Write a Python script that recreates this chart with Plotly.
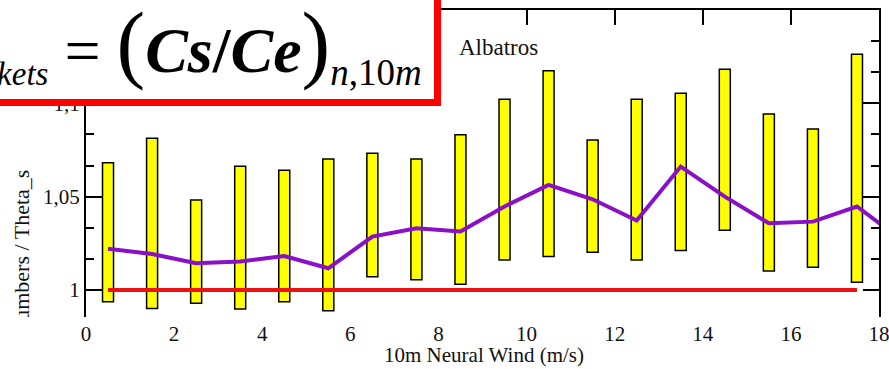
import plotly.graph_objects as go

# Wind-speed bins (bin centres, m/s)
wind_bins = [0.5, 1.5, 2.5, 3.5, 4.5, 5.5, 6.5, 7.5, 8.5,
             9.5, 10.5, 11.5, 12.5, 13.5, 14.5, 15.5, 16.5, 17.5]
# Spread of the ratio in each bin (lower / upper end of the bars)
ratio_low = [0.9937, 0.9900, 0.9929, 0.9898, 0.9937, 0.9889, 1.0071, 1.0054, 1.0030,
             1.0161, 1.0179, 1.0202, 1.0161, 1.0211, 1.0320, 1.0102, 1.0122, 1.0041]
ratio_high = [1.0682, 1.0813, 1.0482, 1.0663, 1.0641, 1.0702, 1.0732, 1.0702, 1.0832,
              1.1022, 1.1174, 1.0804, 1.1022, 1.1054, 1.1183, 1.0943, 1.0863, 1.1263]
# Mean ratio per bin (the last bin lies beyond the axis range)
mean_bins = wind_bins + [18.5]
ratio_mean = [1.0221, 1.0193, 1.0143, 1.0152, 1.0182, 1.0116, 1.0286, 1.0331, 1.0313,
              1.0447, 1.0563, 1.0486, 1.0372, 1.0661, 1.0500, 1.0357, 1.0366, 1.0447, 1.0270]
# Reference ratio of one
ref_x = [0.5, 17.5]
ref_y = [1.0, 1.0]

x_ticks = [0, 2, 4, 6, 8, 10, 12, 14, 16, 18]
x_ticktext = ["0", "2", "4", "6", "8", "10", "12", "14", "16", "18"]
y_ticks = [1.0, 1.05, 1.1]
y_ticktext = ["1", "1,05", "1,1"]

SERIF = "Liberation Serif"
TICKFONT = dict(family=SERIF, size=21, color="#111111")

fig = go.Figure()

fig.add_trace(go.Bar(
    x=wind_bins,
    base=ratio_low,
    y=[h - l for h, l in zip(ratio_high, ratio_low)],
    width=0.25,
    marker=dict(color="#ffff00", line=dict(color="#000000", width=1.5)),
    hoverinfo="skip",
    showlegend=False,
))

fig.add_trace(go.Scatter(
    x=ref_x, y=ref_y, mode="lines", xaxis="x2",
    line=dict(color="#ee1111", width=4),
    showlegend=False,
))

fig.add_trace(go.Scatter(
    x=mean_bins, y=ratio_mean, mode="lines",
    line=dict(color="#8a10c8", width=4),
    showlegend=False,
))

fig.update_layout(
    width=889, height=369,
    margin=dict(l=86, r=10, t=10, b=52, autoexpand=False),
    plot_bgcolor="white", paper_bgcolor="white",
    font=dict(family=SERIF, color="#111111"),
    showlegend=False,
    xaxis=dict(
        range=[0, 18], tickvals=x_ticks, ticktext=x_ticktext,
        showline=False, ticks="", showgrid=False, zeroline=False,
        ticklabelstandoff=2, ticklabeloverflow="allow",
        tickfont=TICKFONT,
    ),
    xaxis2=dict(
        overlaying="x", matches="x", side="top", range=[0, 18],
        tickvals=x_ticks, showticklabels=False,
        showline=True, linewidth=2, linecolor="#000000",
        ticks="inside", ticklen=15, tickwidth=2, tickcolor="#000000",
        showgrid=False, zeroline=False,
    ),
    yaxis=dict(
        range=[0.9855, 1.15], tickvals=y_ticks, ticktext=y_ticktext,
        showline=True, linewidth=2, linecolor="#000000", mirror="ticks",
        ticks="inside", ticklen=16, tickwidth=2, tickcolor="#000000",
        minor=dict(tick0=1.0, dtick=0.05 / 3, ticks="inside", ticklen=8,
                   tickwidth=2, tickcolor="#000000"),
        showgrid=False, zeroline=False, ticklabeloverflow="allow",
        tickfont=TICKFONT,
    ),
)

# Formula box in the upper-left corner
fig.add_shape(
    type="rect", xref="paper", yref="paper",
    x0=-0.3, x1=(437.5 - 86) / 793, y0=(317 - 102.5) / 307, y1=1.3,
    line=dict(color="#ff0000", width=7), fillcolor="white", layer="above",
)

fig.add_annotation(
    xref="paper", yref="paper",
    x=(424 - 86) / 793, y=(317 - 44) / 307, xanchor="right", yanchor="middle",
    text=("<i>θ</i><sub><span style='font-size:33px'><i>buckets</i></span></sub> = "
          "<span style='font-size:86px'>(</span><b><i>Cs</i>/<i>Ce</i></b>"
          "<span style='font-size:86px'>)</span>"
          "<sub><span style='font-size:37px'><i>n</i>,10<i>m</i></span></sub>"),
    showarrow=False,
    font=dict(family=SERIF, size=64, color="#000000"),
)

fig.add_annotation(
    xref="paper", yref="paper",
    x=(457 - 86) / 793, y=(317 - 47) / 307, xanchor="left", yanchor="middle",
    text="Albatros", showarrow=False,
    font=dict(family=SERIF, size=23, color="#111111"),
)

fig.add_annotation(
    xref="paper", yref="paper",
    x=(484 - 86) / 793, y=(317 - 355) / 307, xanchor="center", yanchor="middle",
    text="10m Neural Wind (m/s)", showarrow=False,
    font=dict(family=SERIF, size=21, color="#111111"),
)

fig.add_annotation(
    xref="paper", yref="paper",
    x=(21 - 86) / 793, y=(317 - 168) / 307, xanchor="center", yanchor="top",
    text="Stanton numbers / Theta_s", textangle=-90, showarrow=False,
    font=dict(family=SERIF, size=22, color="#111111"),
)

# Blank strip below the plot on the left
fig.add_annotation(
    xref="paper", yref="paper",
    x=-86 / 793, y=0, xanchor="left", yanchor="top",
    text=" ", showarrow=False, width=80, height=52,
    bgcolor="white", borderpad=0, borderwidth=0,
)

fig.write_html("out.html")
